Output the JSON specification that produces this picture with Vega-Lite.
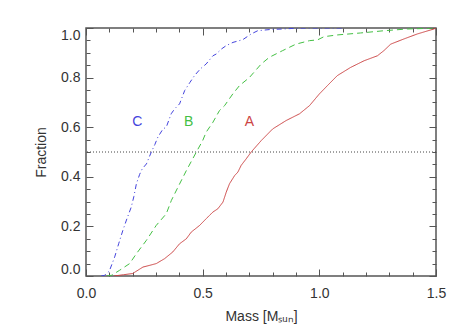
{
  "$schema": "https://vega.github.io/schema/vega-lite/v6.json",
  "width": 350,
  "height": 248,
  "autosize": {"type": "none"},
  "padding": {"left": 86, "top": 28, "right": 27, "bottom": 55},
  "background": "white",
  "config": {
    "view": {"stroke": "#555555", "strokeWidth": 1.5},
    "font": "Liberation Sans",
    "axis": {
      "domain": false,
      "grid": false,
      "labelColor": "#333333",
      "labelFontSize": 14,
      "titleFontSize": 14,
      "titleFontWeight": "normal",
      "titleColor": "#333333",
      "tickColor": "#555555",
      "tickWidth": 1
    }
  },
  "datasets": {
    "curves": [
      {"series": "C", "m": 0.065, "f": 0.0},
      {"series": "C", "m": 0.08, "f": 0.003},
      {"series": "C", "m": 0.10, "f": 0.02},
      {"series": "C", "m": 0.123, "f": 0.077},
      {"series": "C", "m": 0.14, "f": 0.13},
      {"series": "C", "m": 0.158, "f": 0.184},
      {"series": "C", "m": 0.175, "f": 0.23},
      {"series": "C", "m": 0.194, "f": 0.278},
      {"series": "C", "m": 0.205, "f": 0.32},
      {"series": "C", "m": 0.216, "f": 0.372},
      {"series": "C", "m": 0.23, "f": 0.41},
      {"series": "C", "m": 0.241, "f": 0.432},
      {"series": "C", "m": 0.259, "f": 0.452},
      {"series": "C", "m": 0.28, "f": 0.5},
      {"series": "C", "m": 0.295, "f": 0.53},
      {"series": "C", "m": 0.308, "f": 0.56},
      {"series": "C", "m": 0.33, "f": 0.593},
      {"series": "C", "m": 0.344, "f": 0.6},
      {"series": "C", "m": 0.365, "f": 0.654},
      {"series": "C", "m": 0.38, "f": 0.674},
      {"series": "C", "m": 0.401, "f": 0.694},
      {"series": "C", "m": 0.423, "f": 0.748},
      {"series": "C", "m": 0.445, "f": 0.78},
      {"series": "C", "m": 0.465, "f": 0.808},
      {"series": "C", "m": 0.49, "f": 0.835},
      {"series": "C", "m": 0.515, "f": 0.855},
      {"series": "C", "m": 0.544, "f": 0.888},
      {"series": "C", "m": 0.558, "f": 0.895},
      {"series": "C", "m": 0.58, "f": 0.915},
      {"series": "C", "m": 0.601, "f": 0.929},
      {"series": "C", "m": 0.63, "f": 0.942},
      {"series": "C", "m": 0.672, "f": 0.953},
      {"series": "C", "m": 0.708, "f": 0.976},
      {"series": "C", "m": 0.736, "f": 0.989},
      {"series": "C", "m": 0.79, "f": 0.994},
      {"series": "C", "m": 0.843, "f": 0.996},
      {"series": "C", "m": 0.9, "f": 0.999},
      {"series": "C", "m": 0.95, "f": 1.0},
      {"series": "C", "m": 1.1, "f": 1.0},
      {"series": "B", "m": 0.09, "f": 0.0},
      {"series": "B", "m": 0.11, "f": 0.003},
      {"series": "B", "m": 0.144, "f": 0.023},
      {"series": "B", "m": 0.187, "f": 0.05},
      {"series": "B", "m": 0.216, "f": 0.09},
      {"series": "B", "m": 0.259, "f": 0.144},
      {"series": "B", "m": 0.301, "f": 0.204},
      {"series": "B", "m": 0.344, "f": 0.251},
      {"series": "B", "m": 0.366, "f": 0.305},
      {"series": "B", "m": 0.394, "f": 0.358},
      {"series": "B", "m": 0.43, "f": 0.425},
      {"series": "B", "m": 0.473, "f": 0.5},
      {"series": "B", "m": 0.5, "f": 0.546},
      {"series": "B", "m": 0.515, "f": 0.58},
      {"series": "B", "m": 0.544, "f": 0.62},
      {"series": "B", "m": 0.572, "f": 0.667},
      {"series": "B", "m": 0.594, "f": 0.687},
      {"series": "B", "m": 0.629, "f": 0.734},
      {"series": "B", "m": 0.658, "f": 0.768},
      {"series": "B", "m": 0.7, "f": 0.8},
      {"series": "B", "m": 0.751, "f": 0.855},
      {"series": "B", "m": 0.786, "f": 0.882},
      {"series": "B", "m": 0.843, "f": 0.909},
      {"series": "B", "m": 0.9, "f": 0.935},
      {"series": "B", "m": 0.958, "f": 0.949},
      {"series": "B", "m": 0.992, "f": 0.952},
      {"series": "B", "m": 1.02, "f": 0.965},
      {"series": "B", "m": 1.077, "f": 0.972},
      {"series": "B", "m": 1.177, "f": 0.98},
      {"series": "B", "m": 1.277, "f": 0.989},
      {"series": "B", "m": 1.377, "f": 0.996},
      {"series": "B", "m": 1.449, "f": 0.998},
      {"series": "B", "m": 1.5, "f": 1.0},
      {"series": "A", "m": 0.12, "f": 0.0},
      {"series": "A", "m": 0.16, "f": 0.005},
      {"series": "A", "m": 0.2, "f": 0.01},
      {"series": "A", "m": 0.244, "f": 0.036},
      {"series": "A", "m": 0.273, "f": 0.043},
      {"series": "A", "m": 0.301, "f": 0.05},
      {"series": "A", "m": 0.337, "f": 0.07},
      {"series": "A", "m": 0.372, "f": 0.097},
      {"series": "A", "m": 0.401, "f": 0.13},
      {"series": "A", "m": 0.43, "f": 0.15},
      {"series": "A", "m": 0.451, "f": 0.177},
      {"series": "A", "m": 0.487, "f": 0.204},
      {"series": "A", "m": 0.515, "f": 0.231},
      {"series": "A", "m": 0.544, "f": 0.258},
      {"series": "A", "m": 0.565, "f": 0.271},
      {"series": "A", "m": 0.587, "f": 0.298},
      {"series": "A", "m": 0.601, "f": 0.338},
      {"series": "A", "m": 0.615, "f": 0.372},
      {"series": "A", "m": 0.637, "f": 0.405},
      {"series": "A", "m": 0.651, "f": 0.419},
      {"series": "A", "m": 0.665, "f": 0.446},
      {"series": "A", "m": 0.687, "f": 0.473},
      {"series": "A", "m": 0.708, "f": 0.5},
      {"series": "A", "m": 0.751, "f": 0.546},
      {"series": "A", "m": 0.8, "f": 0.593},
      {"series": "A", "m": 0.858, "f": 0.627},
      {"series": "A", "m": 0.915, "f": 0.654},
      {"series": "A", "m": 0.958, "f": 0.687},
      {"series": "A", "m": 1.0, "f": 0.734},
      {"series": "A", "m": 1.035, "f": 0.768},
      {"series": "A", "m": 1.077, "f": 0.808},
      {"series": "A", "m": 1.134, "f": 0.841},
      {"series": "A", "m": 1.192, "f": 0.868},
      {"series": "A", "m": 1.249, "f": 0.888},
      {"series": "A", "m": 1.277, "f": 0.909},
      {"series": "A", "m": 1.306, "f": 0.935},
      {"series": "A", "m": 1.363, "f": 0.956},
      {"series": "A", "m": 1.42, "f": 0.976},
      {"series": "A", "m": 1.491, "f": 0.996},
      {"series": "A", "m": 1.5, "f": 1.0}
    ],
    "labels": [
      {"series": "C", "m": 0.22, "f": 0.62},
      {"series": "B", "m": 0.44, "f": 0.62},
      {"series": "A", "m": 0.70, "f": 0.62}
    ],
    "ref": [{"f": 0.5}]
  },
  "resolve": {"axis": {"x": "independent", "y": "independent"}},
  "layer": [
    {
      "data": {"name": "ref"},
      "mark": {"type": "rule", "color": "#444444", "strokeWidth": 1, "strokeDash": [1, 2]},
      "encoding": {
        "y": {"field": "f", "type": "quantitative", "axis": null}
      }
    },
    {
      "data": {"name": "curves"},
      "mark": {"type": "line", "strokeWidth": 1, "clip": true},
      "encoding": {
        "x": {
          "field": "m", "type": "quantitative",
          "scale": {"domain": [0, 1.5], "nice": false, "zero": false},
          "axis": {
            "orient": "bottom",
            "title": "Mass [Mₛᵤₙ]",
            "values": [0, 0.1, 0.2, 0.3, 0.4, 0.5, 0.6, 0.7, 0.8, 0.9, 1.0, 1.1, 1.2, 1.3, 1.4, 1.5],
            "labelExpr": "abs(datum.value*2-round(datum.value*2))<0.001 ? format(datum.value,'.1f') : ''",
            "tickSize": {"condition": {"test": "abs(datum.value*2-round(datum.value*2))<0.001", "value": -7}, "value": -4},
            "labelPadding": 17,
            "labelFlush": false,
            "labelOverlap": false,
            "titlePadding": 6
          }
        },
        "y": {
          "field": "f", "type": "quantitative",
          "scale": {"domain": [0, 1], "nice": false, "zero": false},
          "axis": {
            "orient": "left",
            "title": "Fraction",
            "values": [0, 0.05, 0.1, 0.15, 0.2, 0.25, 0.3, 0.35, 0.4, 0.45, 0.5, 0.55, 0.6, 0.65, 0.7, 0.75, 0.8, 0.85, 0.9, 0.95, 1.0],
            "labelExpr": "abs(datum.value*5-round(datum.value*5))<0.001 ? format(datum.value,'.1f') : ''",
            "tickSize": {"condition": {"test": "abs(datum.value*5-round(datum.value*5))<0.001", "value": -7}, "value": -4},
            "labelPadding": 13,
            "labelFlush": true,
            "labelOverlap": false,
            "titlePadding": 12
          }
        },
        "color": {
          "field": "series", "type": "nominal",
          "scale": {"domain": ["A", "B", "C"], "range": ["#cc4444", "#44c044", "#4444dd"]},
          "legend": null
        },
        "strokeDash": {
          "field": "series", "type": "nominal",
          "scale": {"domain": ["A", "B", "C"], "range": [[1, 0], [6, 4], [5, 3, 1, 3]]},
          "legend": null
        }
      }
    },
    {
      "data": {"name": "labels"},
      "mark": {"type": "text", "fontSize": 14, "align": "center", "baseline": "middle"},
      "encoding": {
        "x": {
          "field": "m", "type": "quantitative",
          "axis": {
            "orient": "top",
            "title": null,
            "labels": false,
            "values": [0, 0.1, 0.2, 0.3, 0.4, 0.5, 0.6, 0.7, 0.8, 0.9, 1.0, 1.1, 1.2, 1.3, 1.4, 1.5],
            "tickSize": {"condition": {"test": "abs(datum.value*2-round(datum.value*2))<0.001", "value": -7}, "value": -4}
          }
        },
        "y": {
          "field": "f", "type": "quantitative",
          "axis": {
            "orient": "right",
            "title": null,
            "labels": false,
            "values": [0, 0.05, 0.1, 0.15, 0.2, 0.25, 0.3, 0.35, 0.4, 0.45, 0.5, 0.55, 0.6, 0.65, 0.7, 0.75, 0.8, 0.85, 0.9, 0.95, 1.0],
            "tickSize": {"condition": {"test": "abs(datum.value*5-round(datum.value*5))<0.001", "value": -7}, "value": -4}
          }
        },
        "text": {"field": "series", "type": "nominal"},
        "color": {"field": "series", "type": "nominal", "legend": null}
      }
    }
  ]
}
